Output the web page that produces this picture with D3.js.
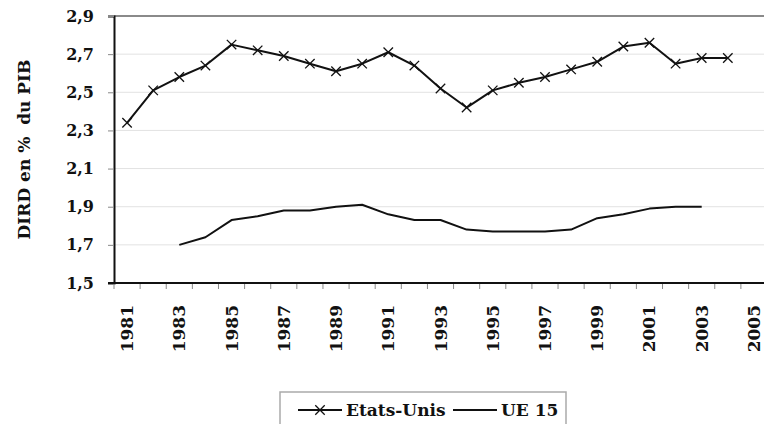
<!DOCTYPE html>
<html>
<head>
<meta charset="utf-8">
<script src="https://cdn.jsdelivr.net/npm/d3@7"></script>
<style>
  body { margin: 0; background: #fff; }
</style>
</head>
<body>
<div id="chart"></div>
<script>
var years = d3.range(1981, 2006);
var usYears = d3.range(1981, 2005);
var usValues = [2.34, 2.51, 2.58, 2.64, 2.75, 2.72, 2.69, 2.65, 2.61, 2.65, 2.71, 2.64,
                2.52, 2.42, 2.51, 2.55, 2.58, 2.62, 2.66, 2.74, 2.76, 2.65, 2.68, 2.68];
var euYears = d3.range(1983, 2004);
var euValues = [1.70, 1.74, 1.83, 1.85, 1.88, 1.88, 1.90, 1.91, 1.86, 1.83, 1.83, 1.78,
                1.77, 1.77, 1.77, 1.78, 1.84, 1.86, 1.89, 1.90, 1.90];
var yTicks = [1.5, 1.7, 1.9, 2.1, 2.3, 2.5, 2.7, 2.9];
var yLabel = "DIRD en %  du PIB";
var seriesNames = ["Etats-Unis", "UE 15"];

var serif = "'DejaVu Serif', serif";

var width = 764, height = 424,
    margin = { top: 16, left: 114, bottom: 141 },
    plotRight = 767;

var svg = d3.select("#chart").append("svg")
    .attr("width", width)
    .attr("height", height)
    .attr("font-family", serif)
    .attr("font-weight", "bold");

var xScale = d3.scaleBand()
    .domain(years)
    .range([margin.left, plotRight])
    .paddingInner(0).paddingOuter(0);

var yScale = d3.scaleLinear()
    .domain([1.5, 2.9])
    .range([height - margin.bottom, margin.top]);

var fmt = function(d){ return d3.format(".1f")(d).replace(".", ","); };
var cx = function(y){ return xScale(y) + xScale.bandwidth() / 2; };

function styleText(sel, size){
  sel.attr("font-family", serif)
     .attr("font-weight", "bold")
     .attr("font-size", size)
     .attr("fill", "#111");
}

// grid lines
svg.append("g").selectAll("line")
  .data(yTicks.slice(1, -1))
  .enter().append("line")
    .attr("x1", margin.left).attr("x2", plotRight)
    .attr("y1", function(d){ return yScale(d); })
    .attr("y2", function(d){ return yScale(d); })
    .attr("stroke", "#e2e2e2")
    .attr("stroke-width", 1);

// top border
svg.append("line")
    .attr("x1", margin.left).attr("x2", plotRight)
    .attr("y1", yScale(2.9)).attr("y2", yScale(2.9))
    .attr("stroke", "#8a8a8a").attr("stroke-width", 2);

// Y axis
var yAxis = d3.axisLeft(yScale).tickValues(yTicks).tickFormat(fmt).tickSize(6).tickPadding(14);
var yAxisG = svg.append("g")
    .attr("transform", "translate(" + margin.left + ",0)")
    .call(yAxis)
    .attr("font-family", serif)
    .attr("font-size", 16);
yAxisG.select(".domain").attr("stroke", "#111").attr("stroke-width", 2);
yAxisG.selectAll(".tick line").attr("stroke", "#888");
styleText(yAxisG.selectAll(".tick text"), 16);

// X axis ticks at band boundaries
var xBottom = yScale(1.5);
var bounds = years.map(function(y){ return xScale(y); }).concat([plotRight]);
svg.append("g").selectAll("line")
  .data(bounds)
  .enter().append("line")
    .attr("x1", function(d){ return d; }).attr("x2", function(d){ return d; })
    .attr("y1", xBottom).attr("y2", xBottom + 6)
    .attr("stroke", "#888").attr("stroke-width", 1);
svg.append("line")
    .attr("x1", margin.left - 6).attr("x2", plotRight)
    .attr("y1", xBottom).attr("y2", xBottom)
    .attr("stroke", "#111").attr("stroke-width", 2);

var xLabels = svg.append("g").selectAll("text")
  .data(years.filter(function(y){ return (y - 1981) % 2 == 0; }))
  .enter().append("text")
    .attr("transform", function(d){ return "translate(" + (cx(d) + 6) + "," + (xBottom + 22) + ") rotate(-90)"; })
    .attr("text-anchor", "end")
    .text(function(d){ return d; });
styleText(xLabels, 17);

// Y label
var yl = svg.append("text")
    .attr("transform", "translate(30," + ((yScale(1.5) + yScale(2.9)) / 2) + ") rotate(-90)")
    .attr("text-anchor", "middle")
    .attr("xml:space", "preserve")
    .style("white-space", "pre")
    .text(yLabel);
styleText(yl, 17);

// lines
var line = d3.line()
    .x(function(d){ return cx(d[0]); })
    .y(function(d){ return yScale(d[1]); });

var usData = d3.zip(usYears, usValues);
var euData = d3.zip(euYears, euValues);

svg.append("path")
    .datum(euData)
    .attr("fill", "none").attr("stroke", "#111").attr("stroke-width", 2)
    .attr("stroke-linejoin", "round")
    .attr("d", line);

svg.append("path")
    .datum(usData)
    .attr("fill", "none").attr("stroke", "#111").attr("stroke-width", 2)
    .attr("stroke-linejoin", "round")
    .attr("d", line);

var cross = d3.symbol().type(d3.symbolX).size(60);
svg.append("g").selectAll("path")
  .data(usData)
  .enter().append("path")
    .attr("transform", function(d){ return "translate(" + cx(d[0]) + "," + yScale(d[1]) + ")"; })
    .attr("d", cross)
    .attr("fill", "none").attr("stroke", "#111").attr("stroke-width", 1.3);

// legend
var lg = svg.append("g").attr("transform", "translate(280,392)");
lg.append("rect")
    .attr("x", 0).attr("y", 0).attr("width", 286).attr("height", 40)
    .attr("fill", "#fff").attr("stroke", "#aaa").attr("stroke-width", 1.5);
lg.append("line").attr("x1", 18).attr("x2", 62).attr("y1", 18).attr("y2", 18)
    .attr("stroke", "#111").attr("stroke-width", 2);
lg.append("path").attr("transform", "translate(40,18)").attr("d", cross)
    .attr("fill", "none").attr("stroke", "#111").attr("stroke-width", 1.3);
styleText(lg.append("text").attr("x", 66).attr("y", 24).text(seriesNames[0]), 17);
lg.append("line").attr("x1", 173).attr("x2", 217).attr("y1", 18).attr("y2", 18)
    .attr("stroke", "#111").attr("stroke-width", 2);
styleText(lg.append("text").attr("x", 221).attr("y", 24).text(seriesNames[1]), 17);
</script>
</body>
</html>
